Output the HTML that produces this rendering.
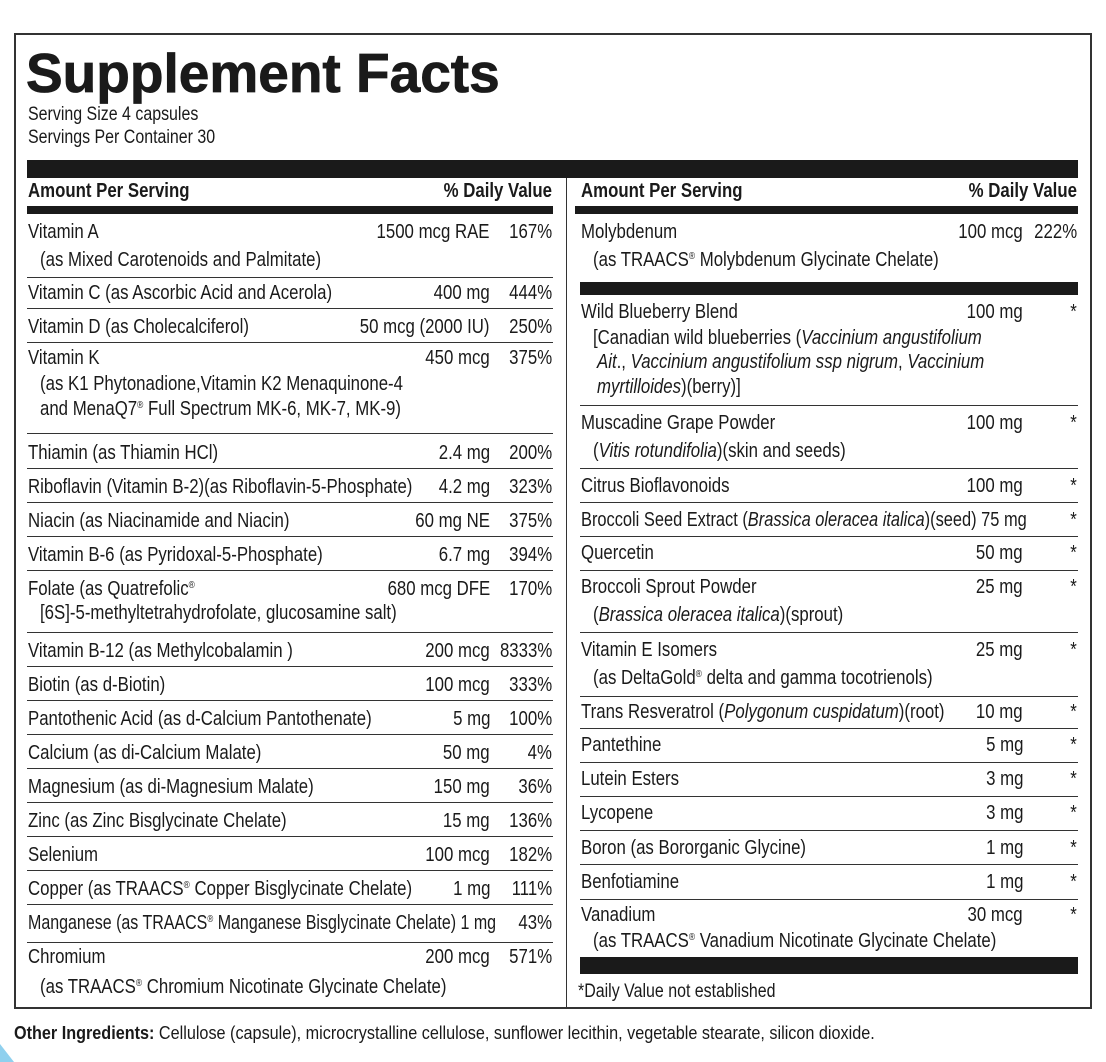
<!DOCTYPE html>
<html><head><meta charset="utf-8"><style>
*{margin:0;padding:0;box-sizing:border-box}
body{width:1106px;height:1062px;background:#fff;position:relative;overflow:hidden;font-family:"Liberation Sans",sans-serif;color:#1a1a1a;font-size:20px}
div{position:absolute;white-space:nowrap;line-height:24px}
.n,.s,.n2,.s2,.x{transform:scaleX(.84);transform-origin:left center}
.a,.p,.a2,.p2{transform:scaleX(.84);transform-origin:right center}
.n{left:28px}.s{left:40px}
.a{right:616px}.p{right:554px}
.n2{left:581px}.s2{left:593px}
.a2{right:83px}.p2{right:29px}
.l{height:1px;background:#333;left:27px;width:526px}
.r{height:1px;background:#333;left:580px;width:498px}
.b{background:#1a1a1a}
.h{font-weight:bold}
i{font-style:italic}
sup{font-size:10px;vertical-align:7px;line-height:0}
</style></head><body>
<div style="left:14px;top:33px;width:1078px;height:976px;border:2px solid #333"></div>
<div style="left:26px;top:40px;font-weight:bold;font-size:55px;line-height:66px;transform:scaleX(1.0);transform-origin:left;-webkit-text-stroke:0.8px #1a1a1a">Supplement Facts</div>
<div class="x" style="left:28px;top:104px;line-height:22px;font-size:19px">Serving Size 4 capsules</div>
<div class="x" style="left:28px;top:127px;line-height:22px;font-size:19px">Servings Per Container 30</div>
<div class="b" style="left:27px;top:160px;width:1051px;height:18px"></div>
<div style="left:566px;top:178px;width:1px;height:830px;background:#333"></div>
<div class="n h" style="top:179px">Amount Per Serving</div>
<div class="p h" style="top:179px">% Daily Value</div>
<div class="n2 h" style="top:179px">Amount Per Serving</div>
<div class="p2 h" style="top:179px">% Daily Value</div>
<div class="b" style="left:27px;top:206px;width:526px;height:8px"></div>
<div class="b" style="left:575px;top:206px;width:503px;height:8px"></div>

<!-- Left column -->
<div class="n" style="top:220px">Vitamin A</div><div class="a" style="top:220px">1500 mcg RAE</div><div class="p" style="top:220px">167%</div>
<div class="s" style="top:248px">(as Mixed Carotenoids and Palmitate)</div>
<div class="l" style="top:277px"></div>
<div class="n" style="top:281px">Vitamin C (as Ascorbic Acid and Acerola)</div><div class="a" style="top:281px">400 mg</div><div class="p" style="top:281px">444%</div>
<div class="l" style="top:308px"></div>
<div class="n" style="top:315px">Vitamin D (as Cholecalciferol)</div><div class="a" style="top:315px">50 mcg (2000 IU)</div><div class="p" style="top:315px">250%</div>
<div class="l" style="top:342px"></div>
<div class="n" style="top:346px">Vitamin K</div><div class="a" style="top:346px">450 mcg</div><div class="p" style="top:346px">375%</div>
<div class="s" style="top:372px">(as K1 Phytonadione,Vitamin K2 Menaquinone-4</div>
<div class="s" style="top:397px">and MenaQ7<sup>®</sup> Full Spectrum MK-6, MK-7, MK-9)</div>
<div class="l" style="top:433px"></div>
<div class="n" style="top:441px">Thiamin (as Thiamin HCl)</div><div class="a" style="top:441px">2.4 mg</div><div class="p" style="top:441px">200%</div>
<div class="l" style="top:468px"></div>
<div class="n" style="top:475px">Riboflavin (Vitamin B-2)(as Riboflavin-5-Phosphate)</div><div class="a" style="top:475px">4.2 mg</div><div class="p" style="top:475px">323%</div>
<div class="l" style="top:502px"></div>
<div class="n" style="top:509px">Niacin (as Niacinamide and Niacin)</div><div class="a" style="top:509px">60 mg NE</div><div class="p" style="top:509px">375%</div>
<div class="l" style="top:536px"></div>
<div class="n" style="top:543px">Vitamin B-6 (as Pyridoxal-5-Phosphate)</div><div class="a" style="top:543px">6.7 mg</div><div class="p" style="top:543px">394%</div>
<div class="l" style="top:570px"></div>
<div class="n" style="top:577px">Folate (as Quatrefolic<sup>®</sup></div><div class="a" style="top:577px">680 mcg DFE</div><div class="p" style="top:577px">170%</div>
<div class="s" style="top:601px">[6S]-5-methyltetrahydrofolate, glucosamine salt)</div>
<div class="l" style="top:632px"></div>
<div class="n" style="top:639px">Vitamin B-12 (as Methylcobalamin )</div><div class="a" style="top:639px">200 mcg</div><div class="p" style="top:639px">8333%</div>
<div class="l" style="top:666px"></div>
<div class="n" style="top:673px">Biotin (as d-Biotin)</div><div class="a" style="top:673px">100 mcg</div><div class="p" style="top:673px">333%</div>
<div class="l" style="top:700px"></div>
<div class="n" style="top:707px">Pantothenic Acid (as d-Calcium Pantothenate)</div><div class="a" style="top:707px">5 mg</div><div class="p" style="top:707px">100%</div>
<div class="l" style="top:734px"></div>
<div class="n" style="top:741px">Calcium (as di-Calcium Malate)</div><div class="a" style="top:741px">50 mg</div><div class="p" style="top:741px">4%</div>
<div class="l" style="top:768px"></div>
<div class="n" style="top:775px">Magnesium (as di-Magnesium Malate)</div><div class="a" style="top:775px">150 mg</div><div class="p" style="top:775px">36%</div>
<div class="l" style="top:802px"></div>
<div class="n" style="top:809px">Zinc (as Zinc Bisglycinate Chelate)</div><div class="a" style="top:809px">15 mg</div><div class="p" style="top:809px">136%</div>
<div class="l" style="top:836px"></div>
<div class="n" style="top:843px">Selenium</div><div class="a" style="top:843px">100 mcg</div><div class="p" style="top:843px">182%</div>
<div class="l" style="top:870px"></div>
<div class="n" style="top:877px">Copper (as TRAACS<sup>®</sup> Copper Bisglycinate Chelate)</div><div class="a" style="top:877px">1 mg</div><div class="p" style="top:877px">111%</div>
<div class="l" style="top:904px"></div>
<div class="n" style="top:911px;transform:scaleX(.8)">Manganese (as TRAACS<sup>®</sup> Manganese Bisglycinate Chelate) 1 mg</div><div class="p" style="top:911px">43%</div>
<div class="l" style="top:942px"></div>
<div class="n" style="top:945px">Chromium</div><div class="a" style="top:945px">200 mcg</div><div class="p" style="top:945px">571%</div>
<div class="s" style="top:975px">(as TRAACS<sup>®</sup> Chromium Nicotinate Glycinate Chelate)</div>

<!-- Right column -->
<div class="n2" style="top:220px">Molybdenum</div><div class="a2" style="top:220px">100 mcg</div><div class="p2" style="top:220px">222%</div>
<div class="s2" style="top:248px">(as TRAACS<sup>®</sup> Molybdenum Glycinate Chelate)</div>
<div class="b" style="left:580px;top:282px;width:498px;height:13px"></div>
<div class="n2" style="top:300px">Wild Blueberry Blend</div><div class="a2" style="top:300px">100 mg</div><div class="p2" style="top:300px">*</div>
<div class="s2" style="top:326px">[Canadian wild blueberries (<i>Vaccinium angustifolium</i></div>
<div class="x" style="left:597px;top:350px"><i>Ait</i>., <i>Vaccinium angustifolium ssp nigrum</i>, <i>Vaccinium</i></div>
<div class="x" style="left:597px;top:375px"><i>myrtilloides</i>)(berry)]</div>
<div class="r" style="top:405px"></div>
<div class="n2" style="top:411px">Muscadine Grape Powder</div><div class="a2" style="top:411px">100 mg</div><div class="p2" style="top:411px">*</div>
<div class="s2" style="top:439px">(<i>Vitis rotundifolia</i>)(skin and seeds)</div>
<div class="r" style="top:468px"></div>
<div class="n2" style="top:474px">Citrus Bioflavonoids</div><div class="a2" style="top:474px">100 mg</div><div class="p2" style="top:474px">*</div>
<div class="r" style="top:502px"></div>
<div class="n2" style="top:508px;transform:scaleX(.82)">Broccoli Seed Extract (<i>Brassica oleracea italica</i>)(seed) 75 mg</div><div class="p2" style="top:508px">*</div>
<div class="r" style="top:536px"></div>
<div class="n2" style="top:541px">Quercetin</div><div class="a2" style="top:541px">50 mg</div><div class="p2" style="top:541px">*</div>
<div class="r" style="top:570px"></div>
<div class="n2" style="top:575px">Broccoli Sprout Powder</div><div class="a2" style="top:575px">25 mg</div><div class="p2" style="top:575px">*</div>
<div class="s2" style="top:603px">(<i>Brassica oleracea italica</i>)(sprout)</div>
<div class="r" style="top:632px"></div>
<div class="n2" style="top:638px">Vitamin E Isomers</div><div class="a2" style="top:638px">25 mg</div><div class="p2" style="top:638px">*</div>
<div class="s2" style="top:666px">(as DeltaGold<sup>®</sup> delta and gamma tocotrienols)</div>
<div class="r" style="top:696px"></div>
<div class="n2" style="top:700px">Trans Resveratrol (<i>Polygonum cuspidatum</i>)(root)</div><div class="a2" style="top:700px">10 mg</div><div class="p2" style="top:700px">*</div>
<div class="r" style="top:728px"></div>
<div class="n2" style="top:733px">Pantethine</div><div class="a2" style="top:733px">5 mg</div><div class="p2" style="top:733px">*</div>
<div class="r" style="top:762px"></div>
<div class="n2" style="top:767px">Lutein Esters</div><div class="a2" style="top:767px">3 mg</div><div class="p2" style="top:767px">*</div>
<div class="r" style="top:796px"></div>
<div class="n2" style="top:801px">Lycopene</div><div class="a2" style="top:801px">3 mg</div><div class="p2" style="top:801px">*</div>
<div class="r" style="top:830px"></div>
<div class="n2" style="top:836px">Boron (as Bororganic Glycine)</div><div class="a2" style="top:836px">1 mg</div><div class="p2" style="top:836px">*</div>
<div class="r" style="top:864px"></div>
<div class="n2" style="top:870px">Benfotiamine</div><div class="a2" style="top:870px">1 mg</div><div class="p2" style="top:870px">*</div>
<div class="r" style="top:899px"></div>
<div class="n2" style="top:903px">Vanadium</div><div class="a2" style="top:903px">30 mcg</div><div class="p2" style="top:903px">*</div>
<div class="s2" style="top:929px">(as TRAACS<sup>®</sup> Vanadium Nicotinate Glycinate Chelate)</div>
<div class="b" style="left:580px;top:957px;width:498px;height:17px"></div>
<div class="x" style="top:980px;left:578px;font-size:19px">*Daily Value not established</div>

<div style="left:14px;top:1021px;font-size:18px;transform:scaleX(.9);transform-origin:left"><b>Other Ingredients:</b> Cellulose (capsule), microcrystalline cellulose, sunflower lecithin, vegetable stearate, silicon dioxide.</div>
<div style="left:0;top:1044px;width:0;height:0;border-left:14px solid #8fd0ee;border-top:18px solid transparent"></div>
</body></html>
